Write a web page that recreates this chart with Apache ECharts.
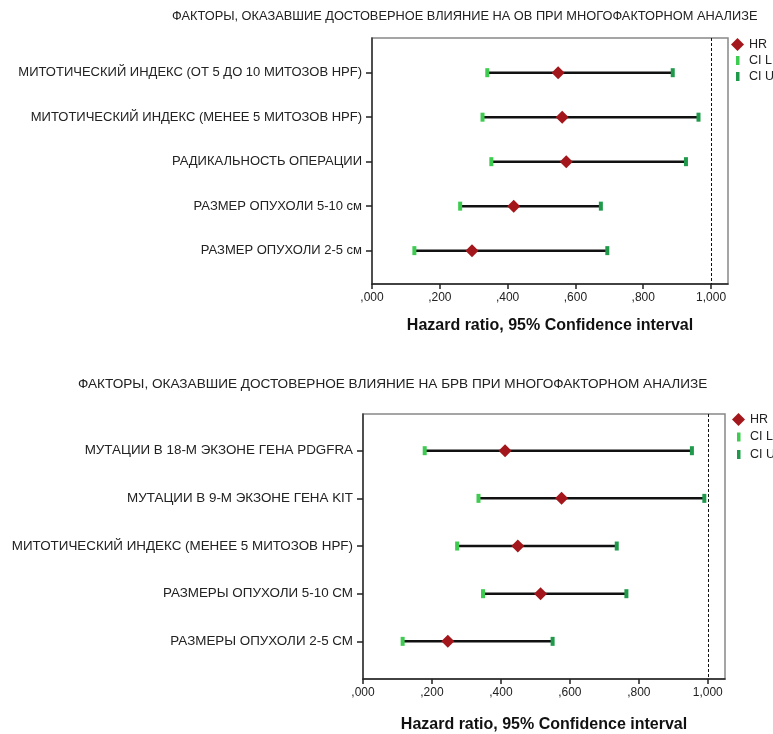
<!DOCTYPE html>
<html>
<head>
<meta charset="utf-8">
<script src="https://cdn.jsdelivr.net/npm/echarts@6/dist/echarts.min.js"></script>
<style>
html, body { margin: 0; padding: 0; background: #fff; }
#chart { width: 773px; height: 734px; }
</style>
</head>
<body>
<div id="chart"></div>
<script>
// ОВ (overall survival) factors, top to bottom
var osFactors = [
    'МИТОТИЧЕСКИЙ ИНДЕКС (ОТ 5 ДО 10 МИТОЗОВ HPF)',
    'МИТОТИЧЕСКИЙ ИНДЕКС (МЕНЕЕ 5 МИТОЗОВ HPF)',
    'РАДИКАЛЬНОСТЬ ОПЕРАЦИИ',
    'РАЗМЕР ОПУХОЛИ 5-10 см',
    'РАЗМЕР ОПУХОЛИ 2-5 см'
];
var osHR  = [0.549, 0.561, 0.573, 0.418, 0.295];
var osCIL = [0.340, 0.326, 0.352, 0.260, 0.125];
var osCIU = [0.887, 0.963, 0.926, 0.675, 0.694];

// БРВ factors, top to bottom
var dfsFactors = [
    'МУТАЦИИ В 18-М ЭКЗОНЕ ГЕНА PDGFRA',
    'МУТАЦИИ В 9-М ЭКЗОНЕ ГЕНА KIT',
    'МИТОТИЧЕСКИЙ ИНДЕКС (МЕНЕЕ 5 МИТОЗОВ HPF)',
    'РАЗМЕРЫ ОПУХОЛИ 5-10 СМ',
    'РАЗМЕРЫ ОПУХОЛИ 2-5 СМ'
];
var dfsHR  = [0.412, 0.576, 0.449, 0.515, 0.246];
var dfsCIL = [0.179, 0.335, 0.273, 0.348, 0.115];
var dfsCIU = [0.954, 0.990, 0.736, 0.764, 0.550];

var xTicks = [0, 0.2, 0.4, 0.6, 0.8, 1.0];
var rows = [1, 2, 3, 4, 5];

var FONT = '"Liberation Sans", Arial, sans-serif';

var chart = echarts.init(document.getElementById('chart'));

function fmtTick(v) {
    return v.toFixed(3).replace('.', ',').replace(/^0/, '');
}

function xAxisFor(grid, nameGap) {
    return {
        type: 'value', gridIndex: grid, min: 0, max: 1.05,
        splitLine: { show: false },
        axisLine: { lineStyle: { color: '#222', width: 1.5 } },
        axisTick: { customValues: xTicks, length: 5, lineStyle: { color: '#222', width: 1.5 } },
        axisLabel: { customValues: xTicks, formatter: fmtTick, color: '#222', fontSize: 12, fontFamily: FONT, margin: 8 },
        name: 'Hazard ratio, 95% Confidence interval',
        nameLocation: 'middle', nameGap: nameGap,
        nameTextStyle: { color: '#111', fontSize: 16, fontWeight: 'bold', fontFamily: FONT }
    };
}

function yAxisFor(grid, names, min, max, fontSize) {
    return {
        type: 'value', gridIndex: grid, min: min, max: max, inverse: true,
        splitLine: { show: false },
        axisLine: { lineStyle: { color: '#333', width: 1.5 } },
        axisTick: { customValues: rows, length: 6, lineStyle: { color: '#222', width: 1.5 } },
        axisLabel: {
            customValues: rows, color: '#222', fontSize: fontSize, fontFamily: FONT, margin: 10,
            formatter: function (v) { return names[Math.round(v) - 1]; }
        }
    };
}

function seriesFor(idx, hr, cil, ciu) {
    var bars = rows.map(function (r, i) { return [cil[i], ciu[i], r]; });
    return [
        {
            type: 'custom', name: 'ci', xAxisIndex: idx, yAxisIndex: idx,
            data: bars,
            encode: { x: [0, 1], y: 2 },
            renderItem: function (params, api) {
                var y = api.value(2);
                var a = api.coord([api.value(0), y]);
                var b = api.coord([api.value(1), y]);
                return {
                    type: 'line',
                    shape: { x1: a[0], y1: a[1], x2: b[0], y2: b[1] },
                    style: { stroke: '#111', lineWidth: 2.5 }
                };
            },
            markLine: {
                silent: true, symbol: 'none', label: { show: false },
                lineStyle: { color: '#111', type: [3, 2], width: 1 },
                data: [{ xAxis: 1 }]
            }
        },
        {
            type: 'scatter', name: 'CI L', xAxisIndex: idx, yAxisIndex: idx,
            symbol: 'rect', symbolSize: [4, 9],
            itemStyle: { color: '#3dcc4f', opacity: 1 },
            data: rows.map(function (r, i) { return [cil[i], r]; })
        },
        {
            type: 'scatter', name: 'CI U', xAxisIndex: idx, yAxisIndex: idx,
            symbol: 'rect', symbolSize: [4, 9],
            itemStyle: { color: '#1f9a4a', opacity: 1 },
            data: rows.map(function (r, i) { return [ciu[i], r]; })
        },
        {
            type: 'scatter', name: 'HR', xAxisIndex: idx, yAxisIndex: idx,
            symbol: 'diamond', symbolSize: 13,
            itemStyle: { color: '#a3161b', opacity: 1 },
            data: rows.map(function (r, i) { return [hr[i], r]; })
        }
    ];
}

// small bar inside a 13x13 box so the legend keeps it narrow
var barIcon = 'path://M0,0M13,13M5,2h3.5v9h-3.5z';

function legendFor(left, top, gap) {
    return {
        orient: 'vertical', left: left, top: top, itemGap: gap, padding: 0,
        itemWidth: 13, itemHeight: 13,
        textStyle: { color: '#222', fontSize: 12.5, fontFamily: FONT },
        data: [
            { name: 'HR', icon: 'diamond' },
            { name: 'CI L', icon: barIcon },
            { name: 'CI U', icon: barIcon }
        ]
    };
}

var option = {
    backgroundColor: '#fff',
    animation: false,
    title: [
        {
            text: 'ФАКТОРЫ, ОКАЗАВШИЕ ДОСТОВЕРНОЕ ВЛИЯНИЕ НА ОВ ПРИ МНОГОФАКТОРНОМ АНАЛИЗЕ',
            left: 172, top: 10, padding: 0,
            textStyle: { color: '#222', fontSize: 12.8, fontWeight: 'normal', fontFamily: FONT }
        },
        {
            text: 'ФАКТОРЫ, ОКАЗАВШИЕ ДОСТОВЕРНОЕ ВЛИЯНИЕ НА БРВ ПРИ МНОГОФАКТОРНОМ АНАЛИЗЕ',
            left: 78, top: 377, padding: 0,
            textStyle: { color: '#222', fontSize: 13.6, fontWeight: 'normal', fontFamily: FONT }
        }
    ],
    legend: [legendFor(731, 38, 3), legendFor(732, 413, 4.5)],
    grid: [
        { left: 372, right: 45, top: 38, bottom: 450, show: true, borderColor: '#888', borderWidth: 1.5 },
        { left: 363, right: 48, top: 414, bottom: 52, show: true, borderColor: '#888', borderWidth: 1.5 }
    ],
    xAxis: [xAxisFor(0, 34), xAxisFor(1, 38)],
    yAxis: [yAxisFor(0, osFactors, 0.22, 5.75, 13), yAxisFor(1, dfsFactors, 0.23, 5.79, 13.4)],
    series: seriesFor(0, osHR, osCIL, osCIU).concat(seriesFor(1, dfsHR, dfsCIL, dfsCIU))
};

chart.setOption(option);
</script>
</body>
</html>
